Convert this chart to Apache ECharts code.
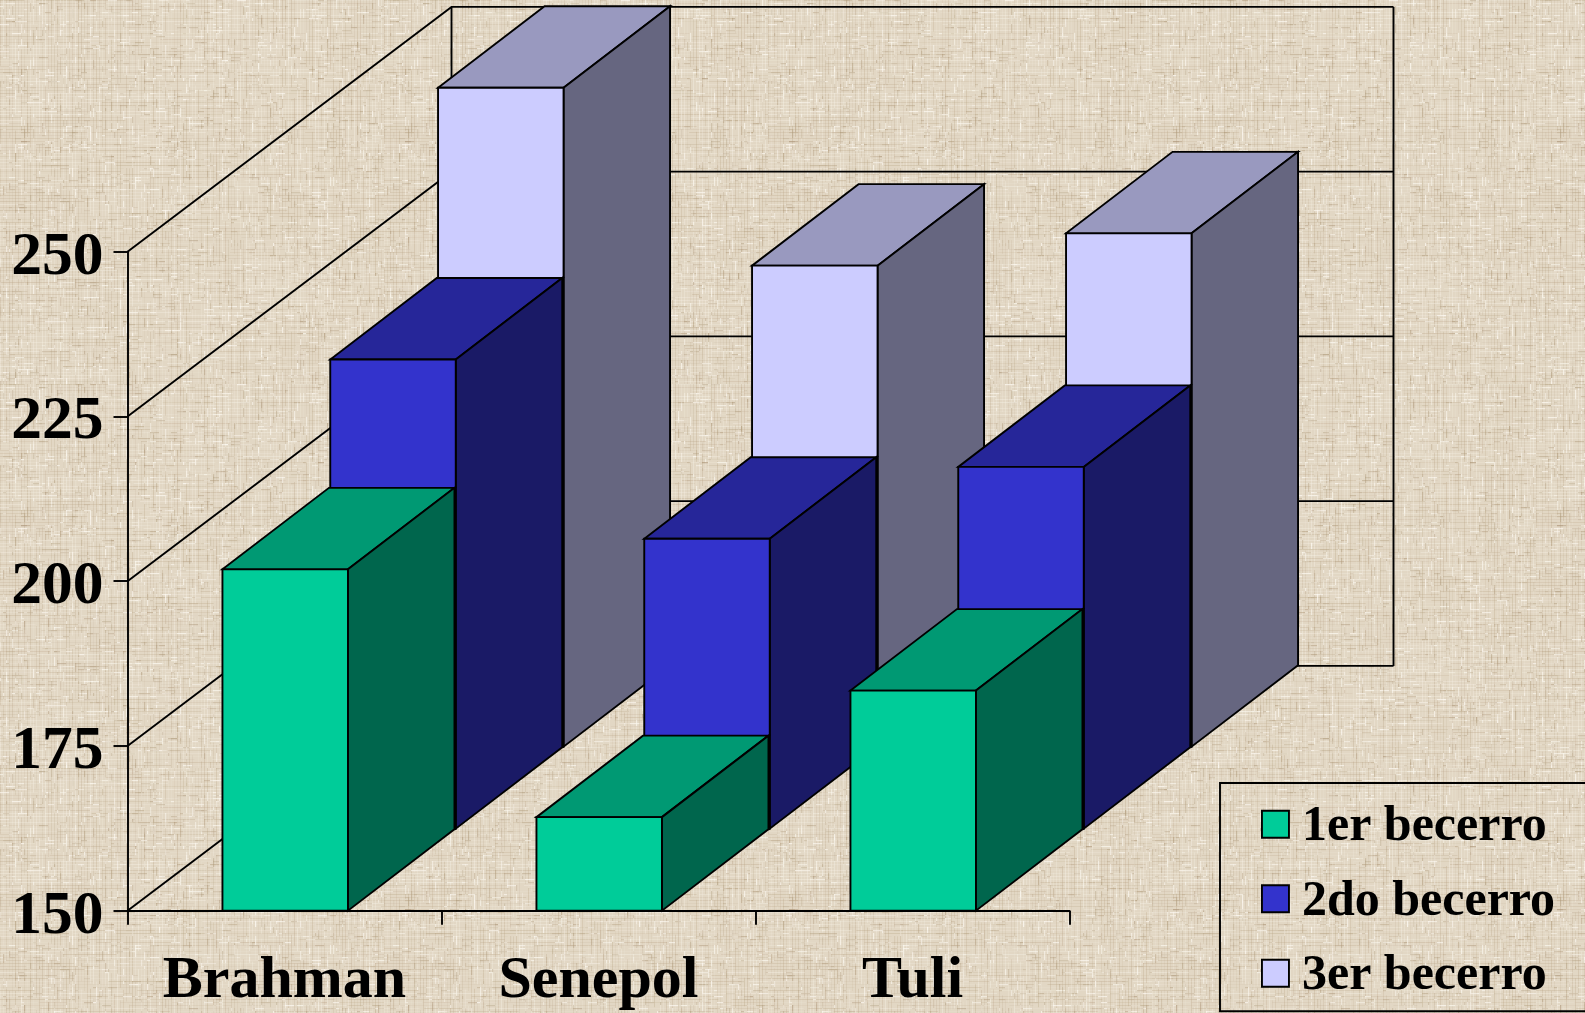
<!DOCTYPE html>
<html><head><meta charset="utf-8">
<style>html,body{margin:0;padding:0;background:#DDD2BF}#c{width:1585px;height:1013px}</style>
<script src="https://cdn.jsdelivr.net/npm/echarts@6/dist/echarts.min.js"></script>
</head><body><div id="c"></div>
<script>
const categories = ['Brahman', 'Senepol', 'Tuli'];
const seriesNames = ['1er becerro', '2do becerro', '3er becerro'];
const primero = [201.8, 164.2, 183.4];
const segundo = [221.2, 194.0, 204.9];
const tercero = [250.0, 223.0, 227.9];
const yTicks = [150, 175, 200, 225, 250];

const STEP_X = 107.8, STEP_Y = -82, SIDE_X = 106.5, SIDE_Y = -81.5;
const WALL_X = 108, WALL_Y = -81.6, BAR_W = 125.5, BAR_SHIFT = 0.7, LW = 1.9;
const palette = [
  { front: '#00CC99', top: '#009973', side: '#00664D' },
  { front: '#3333CC', top: '#262699', side: '#1A1A66' },
  { front: '#CCCCFF', top: '#9999BF', side: '#666680' }
];

// woven-cloth backdrop tile (deterministic)
function weave() {
  const S = 384, P = 3, cv = document.createElement('canvas');
  cv.width = cv.height = S;
  const g = cv.getContext('2d');
  g.fillStyle = '#E2D7C4'; g.fillRect(0, 0, S, S);
  let h = 2024;
  const r = () => (h = (h * 1103515245 + 12345) & 0x7fffffff) / 0x7fffffff;
  // long faint warp and weft threads
  for (let a = 0; a < S; a += P) {
    for (let d = 0; d < 2; d++) {
      let b = 0;
      while (b < S) {
        const len = 20 + r() * 70, light = r() > 0.5;
        g.fillStyle = light ? 'rgba(248,243,232,' + (0.1 + r() * 0.3) + ')' : 'rgba(182,160,128,' + (0.08 + r() * 0.22) + ')';
        if (d) g.fillRect(a, b, 1, len); else g.fillRect(b, a, len, 1);
        b += len + r() * 20;
      }
    }
  }
  // short bright and dark flecks
  for (let n = 0; n < 3000; n++) {
    const vert = r() > 0.5, len = P * (1 + Math.floor(r() * 3)), a = Math.floor(r() * S / P) * P, b = Math.floor(r() * S / P) * P;
    const light = r() > 0.5;
    g.fillStyle = light ? 'rgba(252,248,240,' + (0.3 + r() * 0.4) + ')' : 'rgba(172,150,118,' + (0.15 + r() * 0.25) + ')';
    if (vert) g.fillRect(a, b, 1.2, len); else g.fillRect(b, a, len, 1.2);
  }
  const out = document.createElement('canvas');
  out.width = out.height = S;
  const o = out.getContext('2d');
  o.filter = 'blur(0.6px)';
  o.drawImage(cv, 0, 0);
  return out;
}

function face(points, fill) {
  return { type: 'polygon', shape: { points }, style: { fill, stroke: '#000', lineWidth: LW, lineJoin: 'miter' } };
}

function barRender(k) {
  return function (params, api) {
    const i = api.value(0), v = api.value(1), c = palette[k];
    const topP = api.coord([i, v]), baseP = api.coord([i, 150]);
    const ox = STEP_X * k, oy = STEP_Y * k;
    const l = topP[0] - BAR_W / 2 + BAR_SHIFT + ox, r = l + BAR_W;
    const t = topP[1] + oy, b = baseP[1] + oy;
    return {
      type: 'group',
      children: [
        face([[l, t], [r, t], [r + SIDE_X, t + SIDE_Y], [l + SIDE_X, t + SIDE_Y]], c.top),
        face([[r, t], [r + SIDE_X, t + SIDE_Y], [r + SIDE_X, b + SIDE_Y], [r, b]], c.side),
        face([[l, t], [r, t], [r, b], [l, b]], c.front)
      ]
    };
  };
}

function wallRender(params, api) {
  const tick = api.value(1), cs = params.coordSys;
  const y = api.coord([0, tick])[1];
  const bx = cs.x + WALL_X * 3, by = y + WALL_Y * 3, rx = bx + cs.width;
  const st = { stroke: '#000', lineWidth: LW, fill: null };
  const children = [{ type: 'polyline', shape: { points: [[cs.x, y], [bx, by], [rx, by]] }, style: st }];
  if (tick === yTicks[0]) {
    const topY = api.coord([0, yTicks[yTicks.length - 1]])[1] + WALL_Y * 3;
    children.push({ type: 'line', shape: { x1: bx, y1: by, x2: bx, y2: topY }, style: st });
    children.push({ type: 'line', shape: { x1: rx, y1: by, x2: rx, y2: topY }, style: st });
  }
  return { type: 'group', children };
}

const font = '"Liberation Serif","Times New Roman",serif';
const values = [primero, segundo, tercero];
const chart = echarts.init(document.getElementById('c'), null, { renderer: 'canvas' });
chart.setOption({
  animation: false,
  backgroundColor: { image: weave(), repeat: 'repeat' },
  grid: { left: 127.5, right: 515.5, top: 251.7, bottom: 102.3, containLabel: false },
  xAxis: {
    type: 'category', data: categories, boundaryGap: true,
    axisLine: { lineStyle: { color: '#000', width: LW } },
    axisTick: { show: true, length: 14, lineStyle: { color: '#000', width: LW } },
    axisLabel: { color: '#000', fontFamily: font, fontWeight: 'bold', fontSize: 60, margin: 41, interval: 0 },
    splitLine: { show: false }
  },
  yAxis: {
    type: 'value', min: 150, max: 250, interval: 25,
    axisLine: { show: true, lineStyle: { color: '#000', width: LW } },
    axisTick: { show: true, length: 14, lineStyle: { color: '#000', width: LW } },
    axisLabel: { color: '#000', fontFamily: font, fontWeight: 'bold', fontSize: 61.5, margin: 24, verticalAlign: 'top', lineHeight: 12 },
    splitLine: { show: false }
  },
  legend: {
    data: seriesNames, orient: 'vertical', left: 1220, top: 783, height: 199.5,
    padding: [19.3, 140, 10, 41], itemWidth: 27, itemHeight: 27, itemGap: 24.5,
    borderColor: '#000', borderWidth: LW, icon: 'rect',
    selectedMode: false,
    itemStyle: { borderColor: '#000', borderWidth: LW },
    formatter: '{t|{name}}',
    textStyle: {
      color: '#000', fontFamily: font, fontWeight: 'bold', fontSize: 50,
      rich: { t: { color: '#000', fontFamily: font, fontWeight: 'bold', fontSize: 50, padding: [6, 0, 0, 8] } }
    }
  },
  series: [
    { type: 'custom', name: 'walls', z: 1, silent: true, renderItem: wallRender, encode: { x: 0, y: 1 }, data: yTicks.map(t => [0, t]) },
    ...seriesNames.map((name, k) => ({
      type: 'custom', name, z: 10 - k, renderItem: barRender(k),
      itemStyle: { color: palette[k].front },
      encode: { x: 0, y: 1 }, data: values[k].map((v, i) => [i, v])
    }))
  ]
});
</script></body></html>
